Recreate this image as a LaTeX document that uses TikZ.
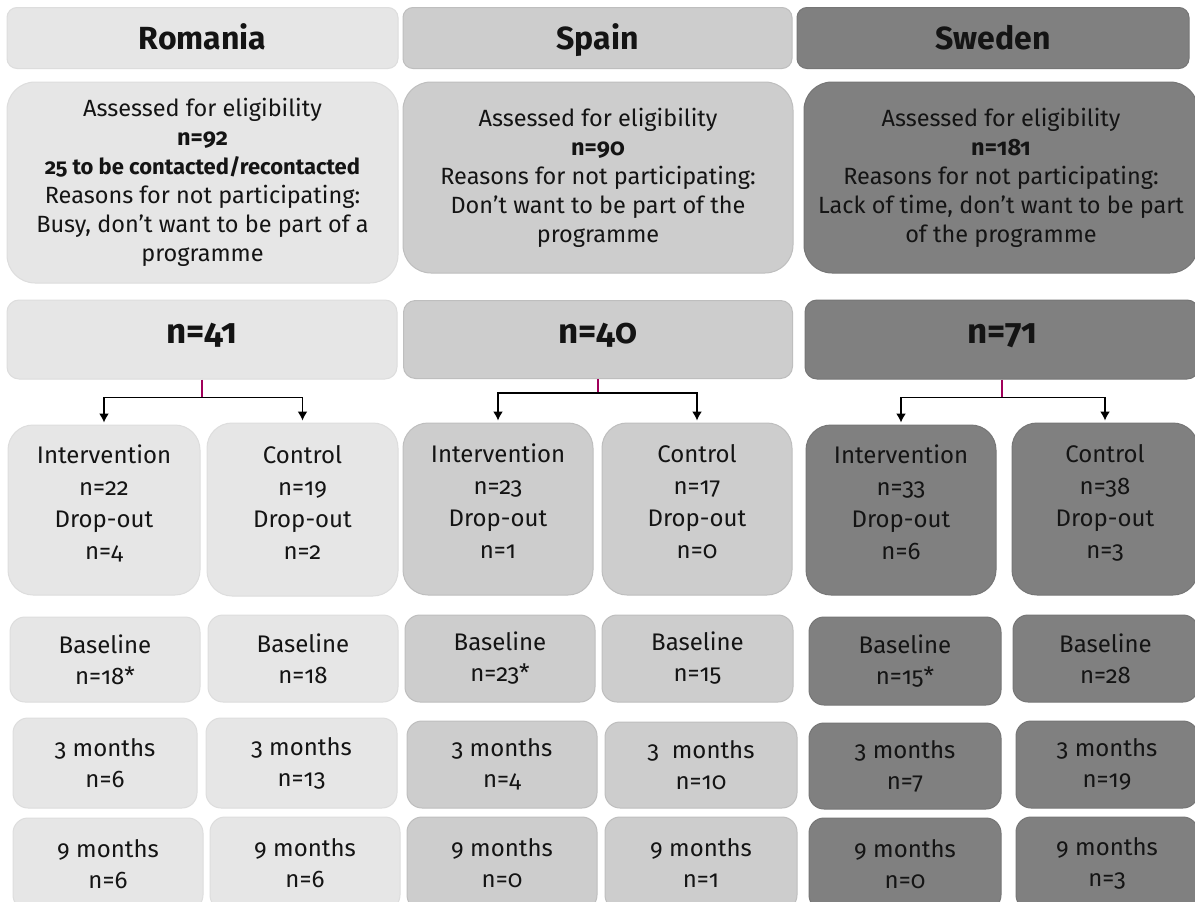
\documentclass[tikz,border=0pt]{standalone}
\usepackage{fontspec}
\setmainfont{Fira Sans}[Numbers=OldStyle]
\usepackage{tikz}
\usetikzlibrary{arrows.meta,positioning,calc}
\usepackage{xcolor}
\definecolor{romfill}{RGB}{230,230,230}
\definecolor{romline}{RGB}{221,221,221}
\definecolor{spafill}{RGB}{205,205,205}
\definecolor{spaline}{RGB}{190,190,190}
\definecolor{swefill}{RGB}{128,128,128}
\definecolor{sweline}{RGB}{118,118,118}
\definecolor{splitmag}{RGB}{160,0,90}

\begin{document}
\begin{tikzpicture}[
    x=1pt, y=-1pt,
    box/.style={rectangle, draw, line width=1pt, align=center, inner sep=0pt, text=black!92},
    wh/.style 2 args={minimum width=#1pt, minimum height=#2pt},
    romania/.style={fill=romfill, draw=romline},
    spain/.style={fill=spafill, draw=spaline},
    sweden/.style={fill=swefill, draw=sweline},
    head/.style={box, rounded corners=10pt, text height=22pt, text depth=0pt, font=\fontsize{32}{34}\selectfont\bfseries},
    assess/.style={box, rounded corners=28pt, font=\fontsize{23.5}{29}\selectfont},
    total/.style={box, rounded corners=12pt, text height=18pt, text depth=11pt, font=\fontsize{35}{38}\selectfont\bfseries},
    arm/.style={box, rounded corners=25pt, text depth=15pt, font=\fontsize{24}{32}\selectfont},
    visit/.style={box, rounded corners=15pt, font=\fontsize{24}{31}\selectfont},
    split/.style={draw=splitmag, line width=1.5pt},
    branch/.style={draw, line width=1.5pt, -{Latex[length=9pt,width=10pt]}, shorten >=2pt}
]
\clip (0,0) rectangle (1195,902);
\fill[white] (0,0) rectangle (1195,902);

\node[head, romania, wh={391}{61}] (hR) at (202.5,38) {Romania};
\node[head, spain, wh={389}{61}] (hS) at (597.5,38) {Spain};
\node[head, sweden, wh={392}{61}] (hW) at (993,38) {Sweden};

\node[assess, romania, wh={391}{201}] (aR) at (202.5,182.5) {Assessed for eligibility\\ \textbf{n=92}\\ \textbf{\fontsize{22}{29}\selectfont 25 to be contacted/recontacted}\\ Reasons for not participating:\\ Busy, don’t want to be part of a\\ programme};
\node[assess, spain, wh={390}{191}] (aS) at (598,177.5) {Assessed for eligibility\\ \textbf{n=90}\\ Reasons for not participating:\\ Don’t want to be part of the\\ programme};
\node[assess, sweden, wh={394}{191}] (aW) at (1001,177.5) {Assessed for eligibility\\ \textbf{n=181}\\ Reasons for not participating:\\ Lack of time, don’t want to be part\\ of the programme};

\node[total, romania, wh={390}{79}] (nR) at (202,339.5) {n=41};
\node[total, spain, wh={389}{78}] (nS) at (598,339.5) {n=40};
\node[total, sweden, wh={394}{79}] (nW) at (1002,339.5) {n=71};

\node[arm, romania, wh={192}{170}] (iR) at (104,510) {Intervention\\ n=22\\ Drop-out\\ n=4};
\node[arm, romania, wh={191}{173}] (cR) at (302.5,509.5) {Control\\ n=19\\ Drop-out\\ n=2};
\node[arm, spain, wh={190}{172}] (iS) at (498,509) {Intervention\\ n=23\\ Drop-out\\ n=1};
\node[arm, spain, wh={190}{172}] (cS) at (697,509) {Control\\ n=17\\ Drop-out\\ n=0};
\node[arm, sweden, wh={190}{170}] (iW) at (901,510) {Intervention\\ n=33\\ Drop-out\\ n=6};
\node[arm, sweden, wh={186}{172}] (cW) at (1105,509) {Control\\ n=38\\ Drop-out\\ n=3};

\draw[split] (nR.south) -- ++(0,18) coordinate (jR);
\draw[branch] (jR) -| (iR.north);
\draw[branch] (jR) -| (cR.north);
\draw[split] (nS.south) -- ++(0,14) coordinate (jS);
\draw[branch] (jS) -| (iS.north);
\draw[branch] (jS) -| (cS.north);
\draw[split] (nW.south) -- ++(0,18) coordinate (jW);
\draw[branch] (jW) -| (iW.north);
\draw[branch] (jW) -| (cW.north);

\node[visit, romania, wh={190}{85}] (bRi) at (105,659.5) {Baseline\\ n=18*};
\node[visit, romania, wh={190}{87}] (bRc) at (303,658.5) {Baseline\\ n=18};
\node[visit, spain, wh={190}{87}] (bSi) at (500,658.5) {Baseline\\ n=23*};
\node[visit, spain, wh={191}{87}] (bSc) at (697.5,658.5) {Baseline\\ n=15};
\node[visit, sweden, wh={192}{88}] (bWi) at (905,661) {Baseline\\ n=15*};
\node[visit, sweden, wh={185}{87}] (bWc) at (1105.5,658.5) {Baseline\\ n=28};

\node[visit, romania, wh={184}{90}] (tRi) at (105,763) {3 months\\ n=6};
\node[visit, romania, wh={191}{90}] (tRc) at (301.5,763) {3 months\\ n=13};
\node[visit, spain, wh={190}{87}] (tSi) at (502,764.5) {3 months\\ n=4};
\node[visit, spain, wh={192}{86}] (tSc) at (701,765) {3\ \ months\\ n=10};
\node[visit, sweden, wh={192}{86}] (tWi) at (905,766) {3 months\\ n=7};
\node[visit, sweden, wh={182}{87}] (tWc) at (1107,764.5) {3 months\\ n=19};

\node[visit, romania, wh={190}{92}] (gRi) at (108,864) {9 months\\ n=6};
\node[visit, romania, wh={190}{93}] (gRc) at (305,863.5) {9 months\\ n=6};
\node[visit, spain, wh={190}{93}] (gSi) at (502,863.5) {9 months\\ n=0};
\node[visit, spain, wh={192}{93}] (gSc) at (701,863.5) {9 months\\ n=1};
\node[visit, sweden, wh={192}{92}] (gWi) at (905,864) {9 months\\ n=0};
\node[visit, sweden, wh={182}{93}] (gWc) at (1107,863.5) {9 months\\ n=3};
\end{tikzpicture}
\end{document}
